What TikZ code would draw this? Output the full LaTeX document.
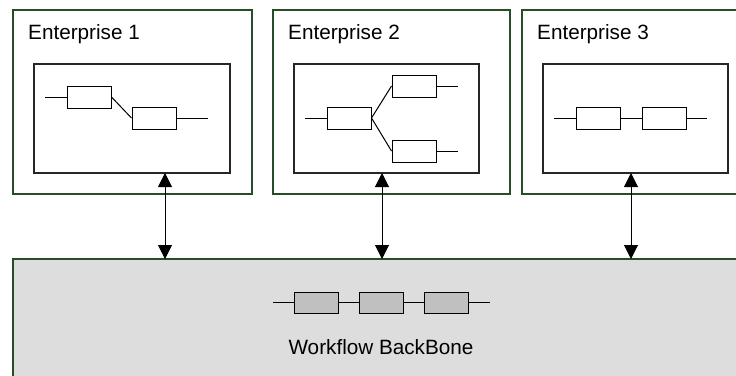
\documentclass[tikz,border=0pt]{standalone}
\usepackage{fontspec}
\setmainfont{Liberation Sans}
\usepackage{tikz}
\usetikzlibrary{arrows.meta}
\definecolor{entgreen}{RGB}{38,78,38}
\definecolor{bonegray}{RGB}{221,221,221}
\definecolor{stepgray}{RGB}{192,192,192}
\def\drawent{\draw[color=entgreen, line width=1.3pt]}
\def\drawflow{\draw[color=black!85, line width=1.1pt, fill=white]}
\def\stepnode{\node[draw=black, fill=white, line width=1pt, minimum width=44pt, minimum height=22pt, inner sep=0pt]}
\def\bonenode{\node[draw=black, fill=stepgray, line width=1pt, minimum width=44pt, minimum height=21pt, inner sep=0pt]}
\tikzset{link/.style={line width=1pt},
  sync/.style={line width=1pt, {Triangle[length=14pt,width=14pt]}-{Triangle[length=14pt,width=14pt]}},
  label/.style={font=\fontsize{20.7}{24}\selectfont, anchor=base west, inner sep=0pt}}

\begin{document}
\begin{tikzpicture}[x=1pt,y=-1pt]
\clip (0,0) rectangle (736,375);
\useasboundingbox (0,0) rectangle (736,375);
% enterprises
\drawent (13,10) rectangle (252,194);
\drawent (273,10) rectangle (510,194);
\drawent (522,10) rectangle (760,194);
\node[label] (ent1) at (28,39) {Enterprise 1};
\node[label] (ent2) at (288,39) {Enterprise 2};
\node[label] (ent3) at (537,39) {Enterprise 3};
\drawflow (34,64) rectangle (230,173);
\drawflow (294,64) rectangle (479,173);
\drawflow (543,64) rectangle (728,173);
% enterprise 1
\stepnode (e1a) at (89,97) {};
\stepnode (e1b) at (154,118) {};
\coordinate (e1in) at (45,97);
\coordinate (e1out) at (208,118);
\draw[link] (e1in) -- (e1a.west);
\draw[link] (e1a.east) -- (e1b.west);
\draw[link] (e1b.east) -- (e1out);
% enterprise 2
\stepnode (e2a) at (349,118) {};
\stepnode (e2b) at (414,86) {};
\stepnode (e2c) at (414,151) {};
\coordinate (e2in) at (305,118);
\coordinate (e2outb) at (458,86);
\coordinate (e2outc) at (458,151);
\draw[link] (e2in) -- (e2a.west);
\draw[link] (e2a.east) -- (e2b.west);
\draw[link] (e2a.east) -- (e2c.west);
\draw[link] (e2b.east) -- (e2outb);
\draw[link] (e2c.east) -- (e2outc);
% enterprise 3
\stepnode (e3a) at (598,118) {};
\stepnode (e3b) at (664,118) {};
\coordinate (e3in) at (554,118);
\coordinate (e3out) at (707,118);
\draw[link] (e3in) -- (e3a.west);
\draw[link] (e3a.east) -- (e3b.west);
\draw[link] (e3b.east) -- (e3out);
% backbone
\drawent[fill=bonegray] (13,259) rectangle (760,400);
\bonenode (bb1) at (316,302.5) {};
\bonenode (bb2) at (381,302.5) {};
\bonenode (bb3) at (446,302.5) {};
\coordinate (bbin) at (273,302.5);
\coordinate (bbout) at (490,302.5);
\draw[link] (bbin) -- (bb1.west);
\draw[link] (bb1.east) -- (bb2.west);
\draw[link] (bb2.east) -- (bb3.west);
\draw[link] (bb3.east) -- (bbout);
\node[font=\fontsize{20.7}{24}\selectfont] (bone) at (381,347) {Workflow BackBone};
% arrows
\foreach \x [count=\i] in {165,382,631} {
  \coordinate (top\i) at (\x,173);
  \coordinate (bot\i) at (\x,259);
  \draw[sync] (top\i) -- (bot\i);
}
\end{tikzpicture}
\end{document}
